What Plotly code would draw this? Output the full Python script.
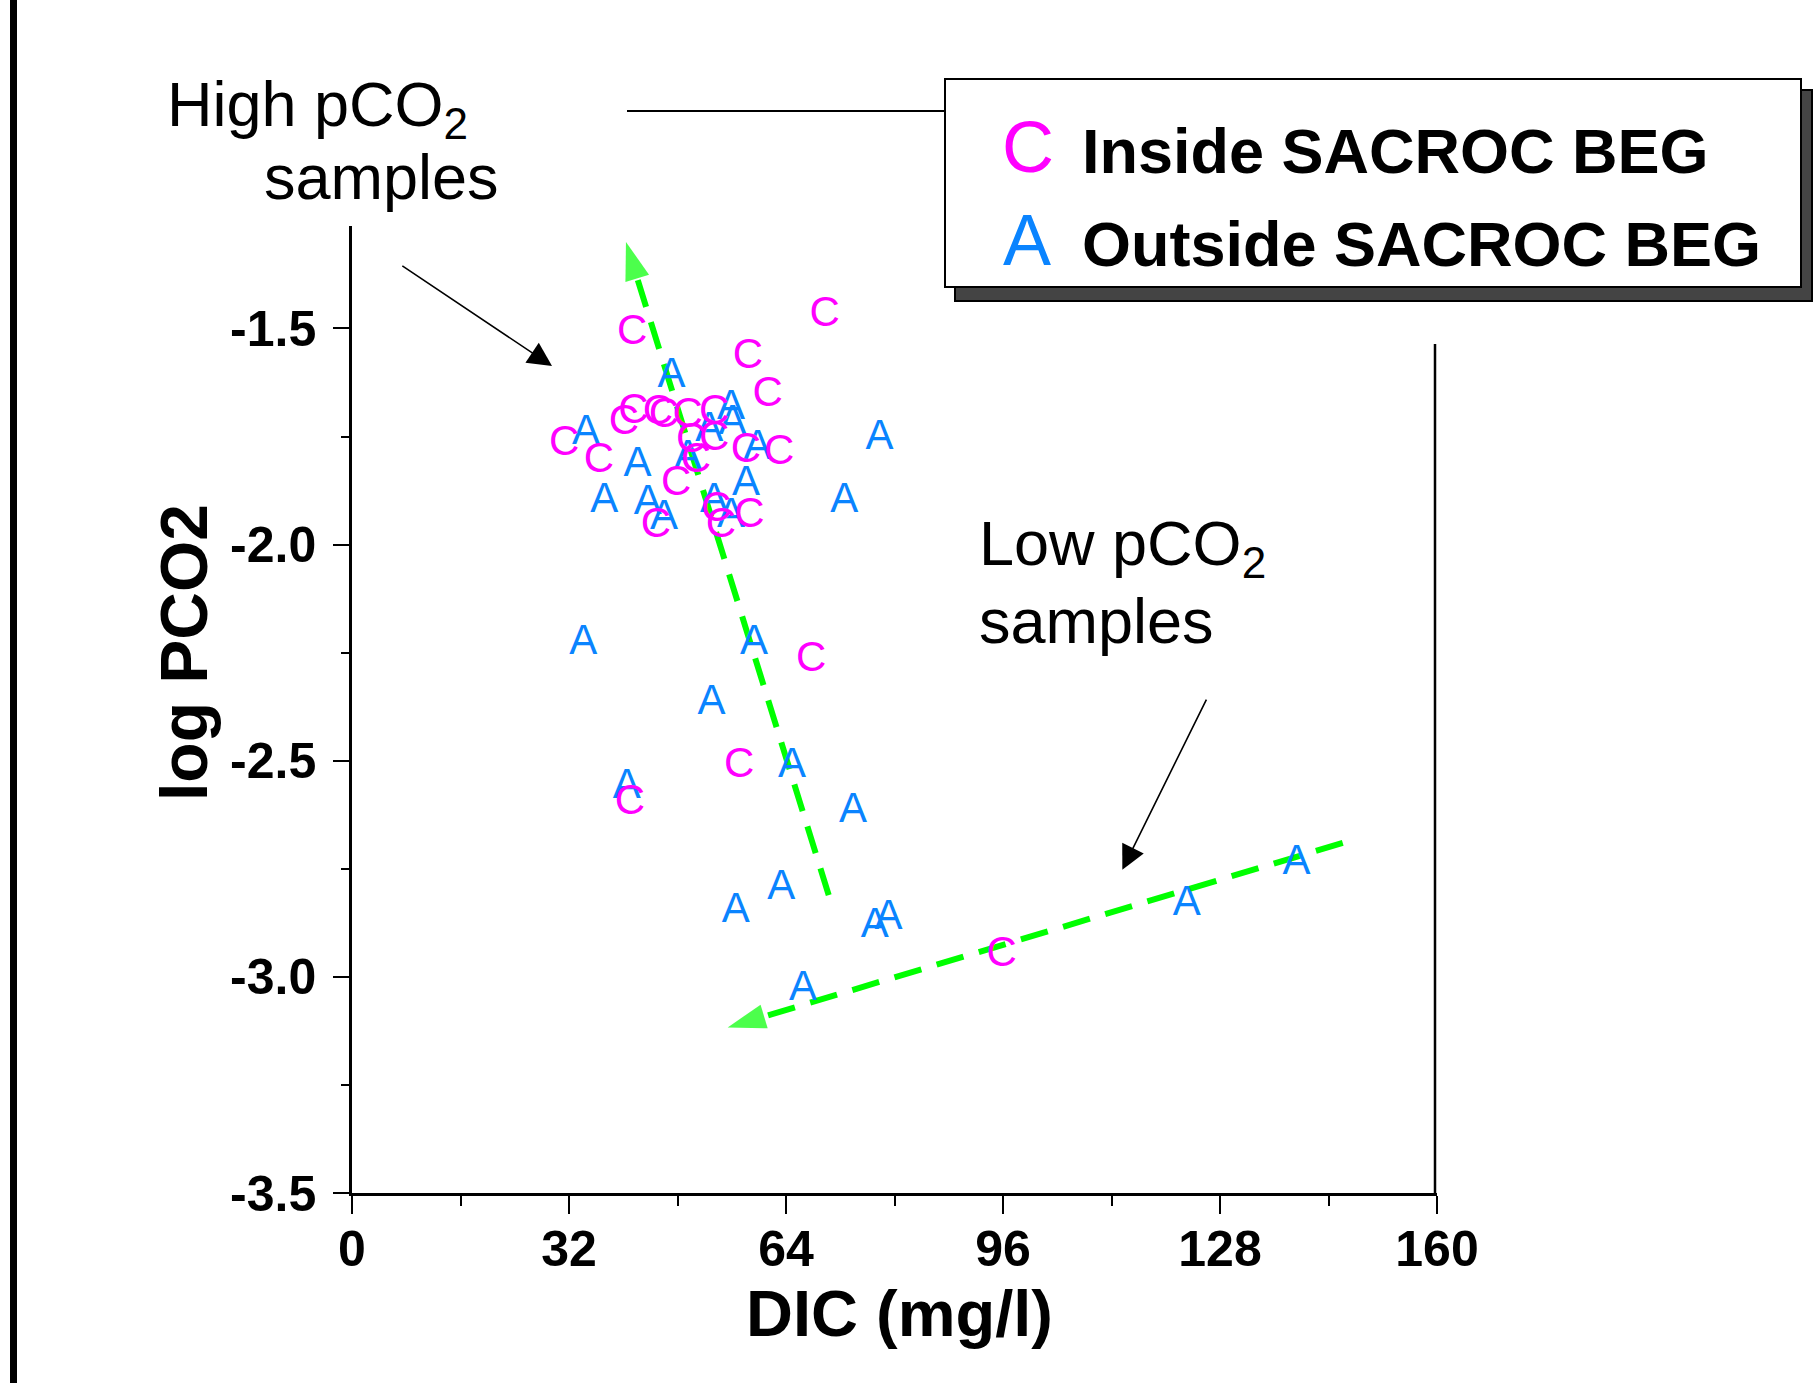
import plotly.graph_objects as go

# ---------------- data ----------------
inside_x = [41.3, 69.7, 58.4, 61.3, 40.1, 41.5, 45.1, 46.0, 49.5, 53.4, 50.0, 53.4, 58.1,
            63.0, 31.3, 36.4, 50.7, 47.8, 44.8, 53.7, 54.4, 58.6, 67.7, 57.1, 41.0, 95.8]
inside_y = [-1.512, -1.469, -1.568, -1.654, -1.719, -1.694, -1.696, -1.704, -1.704, -1.696,
            -1.762, -1.758, -1.785, -1.789, -1.769, -1.808, -1.808, -1.862, -1.958, -1.920,
            -1.958, -1.935, -2.267, -2.513, -2.598, -2.950]

outside_x = [47.1, 55.9, 56.1, 52.7, 59.8, 34.5, 42.1, 49.5, 58.1, 37.2, 43.6, 46.0, 53.4,
             55.9, 72.6, 77.8, 34.1, 59.3, 53.0, 64.9, 40.5, 73.9, 63.3, 56.6, 77.1, 79.1,
             66.5, 123.1, 139.3]
outside_y = [-1.611, -1.685, -1.719, -1.735, -1.777, -1.742, -1.816, -1.800, -1.862, -1.901,
             -1.905, -1.939, -1.900, -1.935, -1.901, -1.754, -2.228, -2.228, -2.367, -2.513,
             -2.563, -2.617, -2.795, -2.849, -2.883, -2.864, -3.030, -2.833, -2.737]

# trend arrows (start -> tip)
trend_high_x = [70.3, 40.4]
trend_high_y = [-2.811, -1.300]
trend_low_x = [146.1, 55.4]
trend_low_y = [-2.690, -3.117]

# annotation pointer arrows (tip, start)
pointer_high = (29.5, -1.587, 7.2, -1.353)
pointer_low = (113.6, -2.752, 126.1, -2.355)

x_tickvals = [0, 32, 64, 96, 128, 160]
x_ticktext = ["0", "32", "64", "96", "128", "160"]
y_tickvals = [-3.5, -3.0, -2.5, -2.0, -1.5]
y_ticktext = ["-3.5", "-3.0", "-2.5", "-2.0", "-1.5"]

legend_labels = ["Inside SACROC BEG", "Outside SACROC BEG"]

# ---------------- layout geometry (pixels) ----------------
FW, FH = 1820, 1383
L, R, T, B = 352, 1437, 226, 1193


def px(x):
    return (x - L) / (R - L)


def py(y):
    return (B - y) / (B - T)


FONT = "Liberation Sans, Arial, sans-serif"
MAG = "#FF00FF"
BLUE = "#0A84FF"
GREEN = "#00FF00"

fig = go.Figure()

for tx, ty in [(trend_high_x, trend_high_y), (trend_low_x, trend_low_y)]:
    fig.add_trace(go.Scatter(
        x=tx, y=ty, mode="lines+markers",
        line=dict(color=GREEN, width=6, dash="28px,16px"),
        marker=dict(symbol=["circle", "arrow"], size=[0, 40], color=GREEN,
                    angleref="previous", line=dict(width=0)),
        hoverinfo="skip", showlegend=False))

fig.add_trace(go.Scatter(
    x=outside_x, y=outside_y, mode="text", text=["A"] * len(outside_x),
    textposition="middle center",
    textfont=dict(family=FONT, size=42, color=BLUE),
    name=legend_labels[1], showlegend=False))

fig.add_trace(go.Scatter(
    x=inside_x, y=inside_y, mode="text", text=["C"] * len(inside_x),
    textposition="middle center",
    textfont=dict(family=FONT, size=42, color=MAG),
    name=legend_labels[0], showlegend=False))

shapes = [
    # slide left bar
    dict(type="rect", xref="paper", yref="paper", x0=px(10), x1=px(17), y0=py(FH + 5), y1=py(-5),
         fillcolor="black", line=dict(width=0), layer="above"),
    # top frame line
    dict(type="line", xref="paper", yref="paper", x0=px(627), x1=px(946), y0=py(111), y1=py(111),
         line=dict(color="black", width=2)),
    # right frame line
    dict(type="line", xref="paper", yref="paper", x0=px(1435), x1=px(1435), y0=py(344), y1=py(1193),
         line=dict(color="black", width=2.5)),
    # legend shadow
    dict(type="rect", xref="paper", yref="paper", x0=px(955), x1=px(1812), y0=py(301), y1=py(90),
         fillcolor="#444444", line=dict(color="black", width=2)),
    # legend box
    dict(type="rect", xref="paper", yref="paper", x0=px(945), x1=px(1801), y0=py(287), y1=py(79),
         fillcolor="white", line=dict(color="black", width=2)),
]

annotations = [
    dict(text="High pCO<sub>2</sub>", x=px(165), y=py(108), xref="paper", yref="paper",
         xanchor="left", yanchor="middle", showarrow=False,
         font=dict(family=FONT, size=63, color="black")),
    dict(text="samples", x=px(262), y=py(177), xref="paper", yref="paper",
         xanchor="left", yanchor="middle", showarrow=False,
         font=dict(family=FONT, size=63, color="black")),
    dict(text="Low pCO<sub>2</sub>", x=px(977), y=py(547), xref="paper", yref="paper",
         xanchor="left", yanchor="middle", showarrow=False,
         font=dict(family=FONT, size=63, color="black")),
    dict(text="samples", x=px(977), y=py(621), xref="paper", yref="paper",
         xanchor="left", yanchor="middle", showarrow=False,
         font=dict(family=FONT, size=63, color="black")),
    # legend entries
    dict(text="C", x=px(1028), y=py(147), xref="paper", yref="paper",
         xanchor="center", yanchor="middle", showarrow=False,
         font=dict(family=FONT, size=72, color=MAG)),
    dict(text="<b>" + legend_labels[0] + "</b>", x=px(1080), y=py(151), xref="paper", yref="paper",
         xanchor="left", yanchor="middle", showarrow=False,
         font=dict(family=FONT, size=63, color="black")),
    dict(text="A", x=px(1027), y=py(240), xref="paper", yref="paper",
         xanchor="center", yanchor="middle", showarrow=False,
         font=dict(family=FONT, size=72, color=BLUE)),
    dict(text="<b>" + legend_labels[1] + "</b>", x=px(1080), y=py(244), xref="paper", yref="paper",
         xanchor="left", yanchor="middle", showarrow=False,
         font=dict(family=FONT, size=63, color="black")),
    # axis titles
    dict(text="<b>DIC (mg/l)</b>", x=px(899), y=py(1313), xref="paper", yref="paper",
         xanchor="center", yanchor="middle", showarrow=False,
         font=dict(family=FONT, size=65, color="black")),
    dict(text="<b>log PCO2</b>", x=px(184), y=py(653), xref="paper", yref="paper",
         xanchor="center", yanchor="middle", showarrow=False, textangle=-90,
         font=dict(family=FONT, size=66, color="black")),
]

for tip_x, tip_y, st_x, st_y in [pointer_high, pointer_low]:
    annotations.append(dict(
        x=tip_x, y=tip_y, ax=st_x, ay=st_y, xref="x", yref="y", axref="x", ayref="y",
        text="", showarrow=True, arrowhead=2, arrowsize=3, arrowwidth=1.6,
        arrowcolor="black", standoff=0))

fig.update_layout(
    width=FW, height=FH,
    margin=dict(l=L, r=FW - R, t=T, b=FH - B, pad=0, autoexpand=False),
    paper_bgcolor="white", plot_bgcolor="white",
    showlegend=False,
    shapes=shapes, annotations=annotations,
    font=dict(family=FONT, color="black"),
)

fig.update_xaxes(
    range=[0, 160], showgrid=False, zeroline=False, automargin=False,
    showline=True, linecolor="black", linewidth=2.5,
    tickmode="array", tickvals=x_tickvals, ticktext=x_ticktext,
    ticks="outside", ticklen=18, tickwidth=2, tickcolor="black",
    tickfont=dict(family=FONT, size=50, color="black", weight="bold"),
    ticklabelstandoff=-8,
    minor=dict(dtick=16, tick0=0, ticks="outside", ticklen=10, tickwidth=2, tickcolor="black"),
)

fig.update_yaxes(
    range=[-3.5, -1.263], showgrid=False, zeroline=False, automargin=False,
    showline=True, linecolor="black", linewidth=2.5,
    tickmode="array", tickvals=y_tickvals, ticktext=y_ticktext,
    ticks="outside", ticklen=16, tickwidth=2, tickcolor="black",
    tickfont=dict(family=FONT, size=50, color="black", weight="bold"),
    ticklabelstandoff=7,
    minor=dict(dtick=0.25, tick0=-3.5, ticks="outside", ticklen=8, tickwidth=2, tickcolor="black"),
)

fig.write_html("out.html",
               config={"displayModeBar": False},
               post_script="document.body.style.margin='0';document.body.style.padding='0';")
